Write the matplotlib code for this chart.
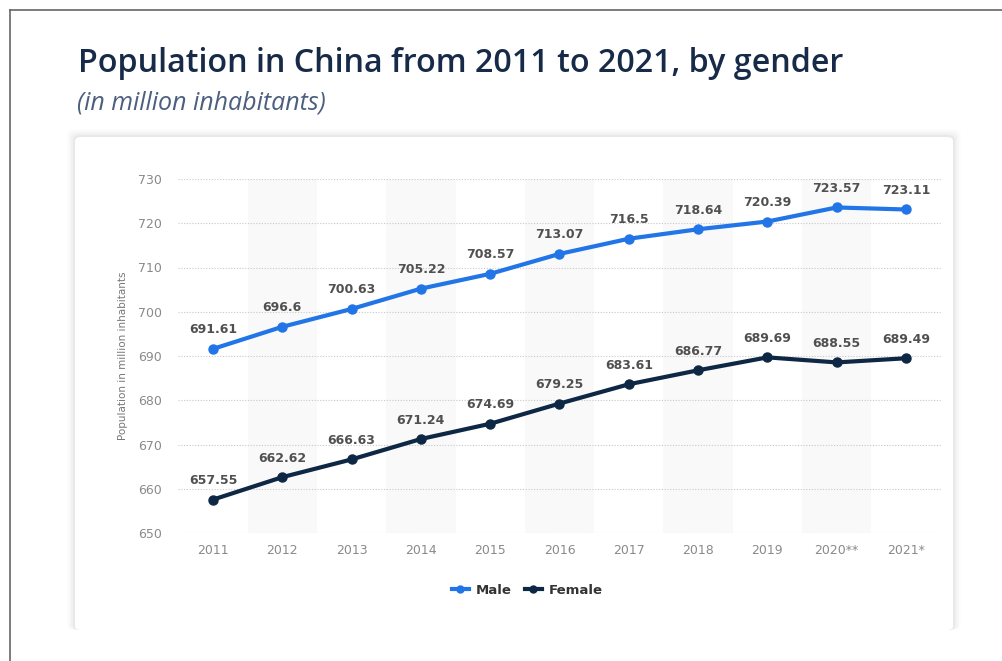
import numpy as np
import matplotlib.pyplot as plt
from matplotlib.patches import FancyBboxPatch
from matplotlib.lines import Line2D

# Population in China by gender (million inhabitants)
years = ['2011', '2012', '2013', '2014', '2015', '2016', '2017', '2018', '2019', '2020**', '2021*']
male = [691.61, 696.6, 700.63, 705.22, 708.57, 713.07, 716.5, 718.64, 720.39, 723.57, 723.11]
female = [657.55, 662.62, 666.63, 671.24, 674.69, 679.25, 683.61, 686.77, 689.69, 688.55, 689.49]
yticks = [650, 660, 670, 680, 690, 700, 710, 720, 730]

blue = '#2175e6'
navy = '#0d2744'

W, H = 1003, 661
fig = plt.figure(figsize=(W / 100, H / 100), dpi=100)

def fx(px):
    return px / W

def fy(py):
    return 1 - py / H

# outer frame (top and left edges)
fig.add_artist(Line2D([fx(10), 1], [fy(10), fy(10)], color='#666666', lw=1.2))
fig.add_artist(Line2D([fx(10), fx(10)], [fy(10), 0], color='#666666', lw=1.2))

# card with soft shadow
for i, a in enumerate([0.012, 0.018, 0.025, 0.035]):
    pad = 8 - 2 * i
    fig.add_artist(FancyBboxPatch((fx(75 - pad), fy(630)), fx(953 + pad) - fx(75 - pad),
                                  fy(137 - pad) - fy(630),
                                  boxstyle='round,pad=0,rounding_size=0.008',
                                  fc='#000000', ec='none', alpha=a, zorder=0))
fig.add_artist(FancyBboxPatch((fx(75), fy(630)), fx(953) - fx(75), fy(137) - fy(630),
                              boxstyle='round,pad=0,rounding_size=0.006',
                              fc='white', ec='none', zorder=0.5))
# blank out below the card
fig.add_artist(plt.Rectangle((fx(11), 0), 1, fy(630), fc='white', ec='none', zorder=0.6))

fig.text(fx(78), fy(72), 'Population in China from 2011 to 2021, by gender',
         family='Open Sans', weight='semibold', fontsize=23.2, color='#172a48', va='baseline')
fig.text(fx(77), fy(110), '(in million inhabitants)',
         family='Open Sans', style='italic', fontsize=18, color='#4c5f7e', va='baseline')

ax = fig.add_axes([fx(178.4), fy(533), fx(940.6) - fx(178.4), fy(179) - fy(533)])
ax.set_zorder(2)
ax.patch.set_alpha(0)
x = np.arange(len(years))

# alternating column shading
for i in x[1::2]:
    ax.axvspan(i - 0.5, i + 0.5, color='#f9f9fa', zorder=0, lw=0)

for v in yticks:
    ax.axhline(v, color='#c8c8c8', lw=0.8, ls=(0, (1, 1.5)), zorder=1)

ax.plot(x, male, color=blue, lw=3, marker='o', ms=6.5, zorder=3, label='Male')
ax.plot(x, female, color=navy, lw=3, marker='o', ms=6.5, zorder=3, label='Female')

for xi, v in zip(x, male):
    ax.annotate(f'{v:g}', (xi, v), xytext=(0, 9), textcoords='offset points',
                ha='center', va='bottom', fontsize=9, weight='bold', color='#505050')
for xi, v in zip(x, female):
    ax.annotate(f'{v:g}', (xi, v), xytext=(0, 9), textcoords='offset points',
                ha='center', va='bottom', fontsize=9, weight='bold', color='#505050')

ax.set_xlim(-0.5, len(years) - 0.5)
ax.set_ylim(650, 730)
ax.set_yticks(yticks)
ax.set_xticks(x)
ax.set_xticklabels(years)
ax.tick_params(length=0, labelsize=9, colors='#8a8a8a')
ax.tick_params(axis='y', pad=12)
ax.tick_params(axis='x', pad=8)
for s in ax.spines.values():
    s.set_visible(False)
ax.set_ylabel('Population in million inhabitants', fontsize=7.5, color='#777777', labelpad=7)

handles = [Line2D([], [], color=blue, lw=3, marker='o', ms=5),
           Line2D([], [], color=navy, lw=3, marker='o', ms=5)]
fig.legend(handles, ['Male', 'Female'], loc='center', bbox_to_anchor=(fx(527), fy(590)),
           ncol=2, frameon=False, handlelength=1.3, handletextpad=0.5, columnspacing=1.0,
           prop={'weight': 'bold', 'size': 9.5}, labelcolor='#333333')

fig.savefig('out.png', dpi=100)
